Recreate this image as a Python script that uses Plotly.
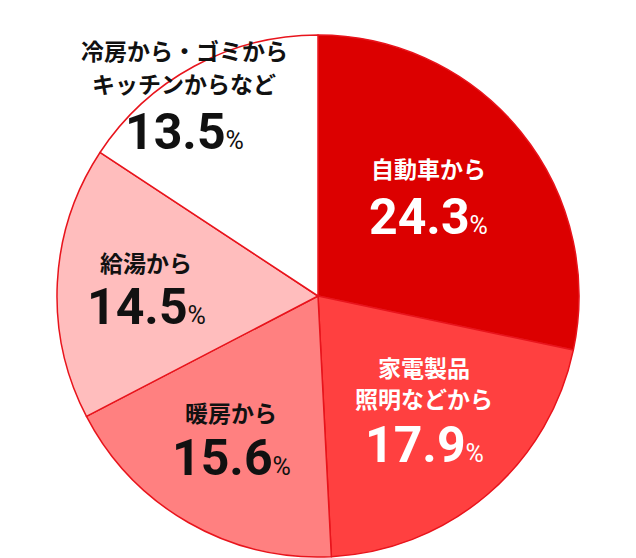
import plotly.graph_objects as go

categories = ["自動車から", "家電製品照明などから", "暖房から", "給湯から", "冷房から・ゴミからキッチンからなど"]
values = [24.3, 17.9, 15.6, 14.5, 13.5]
label_lines = [["自動車から"], ["家電製品", "照明などから"], ["暖房から"], ["給湯から"], ["冷房から・ゴミから", "キッチンからなど"]]

slice_colors = ["#dc0000", "#ff4040", "#ff8080", "#ffbdbd", "#ffffff"]
text_colors = ["#ffffff", "#ffffff", "#111111", "#111111", "#111111"]

W, H = 636, 558
OFF = 8  # page body margin
# label layout (pixel centres in the page): x centre, label line y's, number y
label_pos = [
    (428, [168], 217),
    (424, [367, 398], 445),
    (231, [412], 458),
    (146, [262], 307),
    (184, [50, 83], 132),
]

def px(x):
    return (x - OFF) / W

def py(y):
    return 1 - (y - OFF) / H

fig = go.Figure(go.Pie(
    labels=categories,
    values=values,
    sort=False,
    direction="clockwise",
    rotation=0,
    marker=dict(colors=slice_colors, line=dict(color="#e8141c", width=1.5)),
    textinfo="none",
    hoverinfo="label+value",
    showlegend=False,
    domain=dict(x=[px(57), px(579)], y=[py(557), py(35)]),
))

LABEL_FONT = "Noto Sans CJK JP"
NUM_FONT = "Roboto"
ann = []
for (cx, ly, ny), lines, v, tc in zip(label_pos, label_lines, values, text_colors):
    for y, t in zip(ly, lines):
        ann.append(dict(x=px(cx), y=py(y), xref="paper", yref="paper",
                        text=f"<b>{t}</b>", showarrow=False,
                        xanchor="center", yanchor="middle",
                        font=dict(family=LABEL_FONT, size=23, color=tc)))
    ann.append(dict(x=px(cx), y=py(ny), xref="paper", yref="paper",
                    text=f"<b>{v:.1f}</b><span style='font-size:25px'>%</span>",
                    showarrow=False, xanchor="center", yanchor="middle",
                    font=dict(family=NUM_FONT, size=50, color=tc)))

fig.update_layout(
    width=W, height=H,
    margin=dict(l=0, r=0, t=0, b=0),
    paper_bgcolor="#ffffff",
    plot_bgcolor="#ffffff",
    annotations=ann,
)

fig.write_html("out.html")
